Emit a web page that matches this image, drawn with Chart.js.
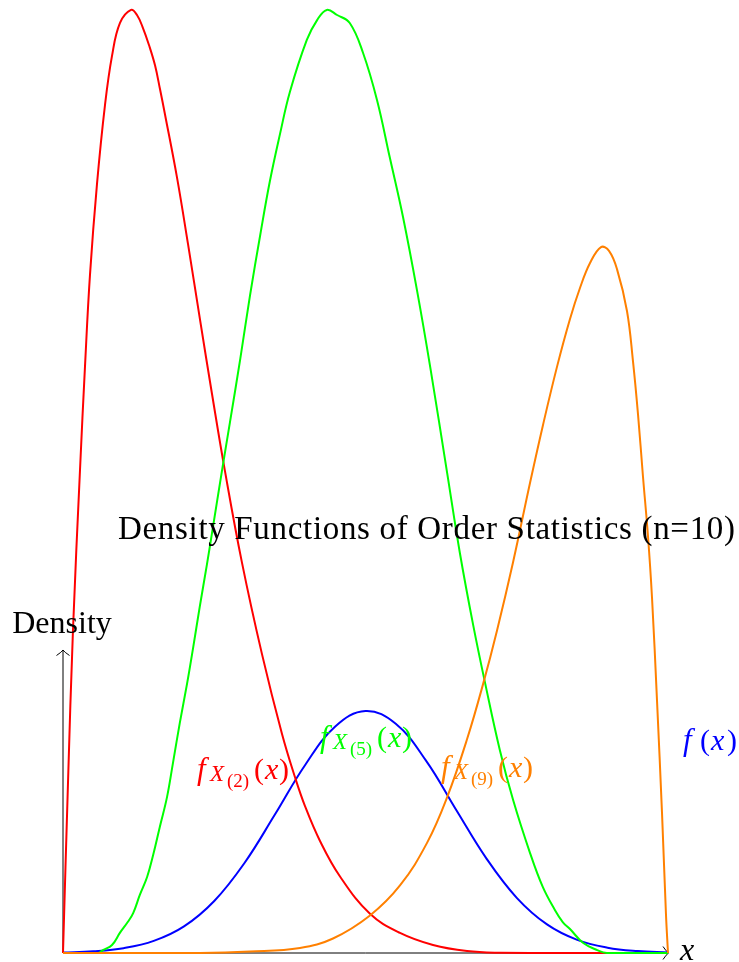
<!DOCTYPE html>
<html>
<head>
<meta charset="utf-8">
<title>Density Functions of Order Statistics (n=10)</title>
<script src="https://cdn.jsdelivr.net/npm/chart.js@4/dist/chart.umd.min.js"></script>
<style>
  html, body { margin: 0; padding: 0; background: #fff; }
  canvas { display: block; }
</style>
</head>
<body>
<canvas id="orderstats" width="739" height="962"></canvas>
<script>
// sampled points of each curve, x runs over [0, 1]
const parentX = [0, 0.05, 0.1, 0.15, 0.2, 0.25, 0.3, 0.35, 0.4, 0.45, 0.5,
    0.55, 0.6, 0.65, 0.7, 0.75, 0.8, 0.85, 0.9, 0.95, 1];
const parentY = [0.002, 0.007, 0.02, 0.05, 0.11, 0.215, 0.372, 0.571, 0.776, 0.936, 1.0,
    0.947, 0.795, 0.591, 0.39, 0.228, 0.118, 0.054, 0.022, 0.008, 0.0025];

const secondX = [0, 0.0083, 0.0165, 0.0281, 0.0364, 0.0446, 0.0562, 0.0694, 0.081, 0.0942,
    0.1124, 0.1223, 0.1322, 0.1421, 0.1521, 0.1603, 0.1686, 0.1884, 0.2066, 0.2264, 0.2463,
    0.2678, 0.2959, 0.3289, 0.362, 0.3835, 0.4, 0.4248, 0.4579, 0.5074, 0.557, 0.6116,
    0.6678, 0.7223, 0.8215, 1];
const secondY = [0, 0.707, 1.335, 1.996, 2.426, 2.802, 3.178, 3.504, 3.707, 3.843,
    3.897, 3.876, 3.822, 3.752, 3.668, 3.57, 3.465, 3.205, 2.93, 2.618, 2.31,
    1.99, 1.612, 1.235, 0.905, 0.726, 0.607, 0.463, 0.316, 0.162, 0.083, 0.033,
    0.008, 0.001, 0, 0];

const fifthX = [0, 0.058, 0.066, 0.081, 0.094, 0.107, 0.116, 0.127, 0.139, 0.149, 0.16,
    0.172, 0.182, 0.193, 0.205, 0.215, 0.226, 0.238, 0.246, 0.264, 0.276, 0.293, 0.309,
    0.326, 0.342, 0.359, 0.375, 0.403, 0.42, 0.436, 0.453, 0.474, 0.496, 0.519, 0.54,
    0.562, 0.585, 0.607, 0.635, 0.656, 0.678, 0.698, 0.722, 0.744, 0.772, 0.793, 0.813,
    0.826, 0.838, 0.86, 0.883, 0.899, 1];
const fifthY = [0, 0, 0.012, 0.033, 0.083, 0.128, 0.165, 0.24, 0.314, 0.405, 0.521,
    0.645, 0.789, 0.95, 1.112, 1.26, 1.43, 1.607, 1.731, 2.012, 2.194, 2.455, 2.715,
    2.967, 3.19, 3.388, 3.558, 3.773, 3.855, 3.897, 3.876, 3.843, 3.719, 3.525, 3.289,
    3.041, 2.74, 2.421, 1.983, 1.653, 1.355, 1.112, 0.839, 0.632, 0.413, 0.273, 0.178,
    0.128, 0.099, 0.041, 0.012, 0, 0];

const ninthX = [0, 0.2264, 0.3091, 0.3917, 0.4463, 0.5074, 0.557, 0.6017, 0.6347, 0.6678,
    0.6942, 0.7174, 0.7438, 0.7719, 0.7934, 0.8165, 0.838, 0.8545, 0.8711, 0.8893, 0.9025,
    0.9157, 0.9322, 0.9421, 0.9504, 0.9587, 0.9669, 0.9736, 0.9818, 0.9901, 0.9967, 1];
const ninthY = [0, 0, 0.006, 0.021, 0.06, 0.155, 0.279, 0.455, 0.642, 0.883,
    1.11, 1.333, 1.614, 1.942, 2.182, 2.422, 2.62, 2.748, 2.851, 2.917, 2.901,
    2.826, 2.653, 2.446, 2.227, 1.967, 1.723, 1.467, 1.045, 0.579, 0.157, 0];

const TOP = 3.938;      // density at the top edge of the canvas
const AXIS_TOP = 1.25;  // where the vertical axis arrow stops

const toPoints = (xs, ys) => xs.map((x, i) => ({ x: x, y: ys[i] }));

const SERIF = '"Liberation Serif", "Times New Roman", serif';

function arrowhead(ctx, px, py, angle) {
    ctx.save();
    ctx.translate(px, py);
    ctx.rotate(angle);
    ctx.beginPath();
    ctx.moveTo(-5, -6.5);
    ctx.quadraticCurveTo(-1.5, -1.2, 0.5, 0);
    ctx.quadraticCurveTo(-1.5, 1.2, -5, 6.5);
    ctx.stroke();
    ctx.restore();
}

// draws a run of pieces: {t, it (italic), size, dx, dy}
function drawMath(ctx, parts, x, base, color) {
    ctx.fillStyle = color;
    ctx.textAlign = 'left';
    ctx.textBaseline = 'alphabetic';
    parts.forEach(p => {
        ctx.font = (p.it ? 'italic ' : '') + p.size + 'px ' + SERIF;
        ctx.fillText(p.t, x + p.dx, base + (p.dy || 0));
    });
}

function orderLabel(k) {
    return [
        { t: 'f', it: true, size: 31, dx: 0 },
        { t: 'X', it: true, size: 23, dx: 13, dy: 2 },
        { t: '(' + k + ')', size: 19, dx: 30, dy: 8 },
        { t: '(', size: 30, dx: 57 },
        { t: 'x', it: true, size: 30, dx: 68 },
        { t: ')', size: 30, dx: 82 }
    ];
}

const axesPlugin = {
    id: 'axes',
    beforeDatasetsDraw(chart) {
        const { ctx, scales: { x, y } } = chart;
        const x0 = x.getPixelForValue(0), x1 = x.getPixelForValue(1);
        const y0 = y.getPixelForValue(0), y1 = y.getPixelForValue(AXIS_TOP);
        ctx.save();
        ctx.strokeStyle = '#000';
        ctx.lineWidth = 1;
        ctx.beginPath();
        ctx.moveTo(x0, y0);
        ctx.lineTo(x1, y0);
        ctx.moveTo(x0, y0);
        ctx.lineTo(x0, y1);
        ctx.stroke();
        arrowhead(ctx, x1, y0, 0);
        arrowhead(ctx, x0, y1, -Math.PI / 2);
        ctx.restore();
    },
    afterDatasetsDraw(chart) {
        const ctx = chart.ctx;
        ctx.save();

        // title, stretched a little to the width of the original typesetting
        const title = 'Density Functions of Order Statistics (n=10)';
        ctx.font = '33px ' + SERIF;
        ctx.fillStyle = '#000';
        ctx.textAlign = 'left';
        ctx.textBaseline = 'alphabetic';
        const w0 = ctx.measureText(title).width;
        if ('letterSpacing' in ctx) {
            ctx.letterSpacing = ((617 - w0) / (title.length - 1)) + 'px';
        }
        ctx.fillText(title, 118, 539);
        if ('letterSpacing' in ctx) ctx.letterSpacing = '0px';

        ctx.font = '32px ' + SERIF;
        ctx.textAlign = 'center';
        ctx.fillText('Density', 62, 633);

        ctx.textAlign = 'left';
        ctx.font = 'italic 32px ' + SERIF;
        ctx.fillText('x', 680, 960);

        drawMath(ctx, orderLabel(2), 197, 779, '#ff0000');
        drawMath(ctx, orderLabel(5), 320, 747, '#00ff00');
        drawMath(ctx, orderLabel(9), 441, 777, '#ff8000');
        drawMath(ctx, [
            { t: 'f', it: true, size: 31, dx: 0 },
            { t: '(', size: 30, dx: 17 },
            { t: 'x', it: true, size: 30, dx: 28 },
            { t: ')', size: 30, dx: 44 }
        ], 683, 750, '#0000ff');

        ctx.restore();
    }
};

const line = (data, color, order) => ({
    data: data,
    borderColor: color,
    borderWidth: 2,
    pointRadius: 0,
    fill: false,
    tension: 0.4,
    clip: false,
    order: order
});

new Chart(document.getElementById('orderstats'), {
    type: 'line',
    data: {
        datasets: [
            line(toPoints(ninthX, ninthY), '#ff8000', 0),
            line(toPoints(fifthX, fifthY), '#00ff00', 1),
            line(toPoints(secondX, secondY), '#ff0000', 2),
            line(toPoints(parentX, parentY), '#0000ff', 3)
        ]
    },
    options: {
        responsive: false,
        animation: false,
        events: [],
        layout: { padding: { left: 63, right: 71, top: 0, bottom: 9 } },
        plugins: {
            legend: { display: false },
            title: { display: false },
            tooltip: { enabled: false }
        },
        scales: {
            x: { type: 'linear', min: 0, max: 1, display: false },
            y: { type: 'linear', min: 0, max: TOP, display: false }
        }
    },
    plugins: [axesPlugin]
});
</script>
</body>
</html>
